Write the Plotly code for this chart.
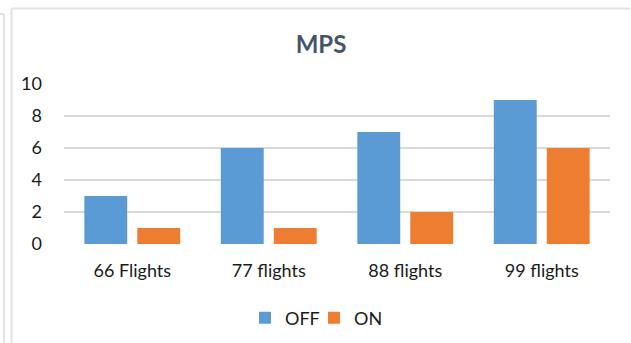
import plotly.graph_objects as go

categories = ["66 Flights", "77 flights", "88 flights", "99 flights"]
off_values = [3, 6, 7, 9]
on_values = [1, 1, 2, 6]
y_ticks = [0, 2, 4, 6, 8, 10]

W, H = 631, 343
ML, MR, MT, MB = 64, 21, 84, 99
PW, PH = W - ML - MR, H - MT - MB

def px_x(p):
    return (p - ML) / PW

def px_y(p):
    return 1 - (p - MT) / PH

FONT = "Lato, Open Sans, sans-serif"
TEXT = "#1a1a1a"

fig = go.Figure()
fig.add_bar(name="OFF", x=categories, y=off_values, legend="legend",
            marker=dict(color="#5b9bd5", line=dict(width=0)))
fig.add_bar(name="ON", x=categories, y=on_values, legend="legend2",
            marker=dict(color="#ed7d31", line=dict(width=0)))

frame = "#dfe3e8"
shapes = [
    # outer panel edge
    dict(type="line", xref="paper", yref="paper",
         x0=px_x(4), x1=px_x(4), y0=px_y(14), y1=px_y(H + 2),
         line=dict(color=frame, width=2)),
    dict(type="line", xref="paper", yref="paper",
         x0=px_x(-2), x1=px_x(4), y0=px_y(14), y1=px_y(14),
         line=dict(color=frame, width=2)),
    # chart area border
    dict(type="line", xref="paper", yref="paper",
         x0=px_x(11.5), x1=px_x(11.5), y0=px_y(8.5), y1=px_y(H + 2),
         line=dict(color=frame, width=2)),
    dict(type="line", xref="paper", yref="paper",
         x0=px_x(11.5), x1=px_x(630), y0=px_y(8.5), y1=px_y(8.5),
         line=dict(color=frame, width=2)),
]

legend_style = dict(orientation="h", xref="container", yref="container",
                    xanchor="left", yanchor="middle", y=1 - 318 / H,
                    font=dict(family=FONT, size=18, color=TEXT),
                    itemwidth=30, bgcolor="rgba(0,0,0,0)")

fig.update_layout(
    width=W, height=H,
    margin=dict(l=ML, r=MR, t=MT, b=MB, autoexpand=False),
    paper_bgcolor="white", plot_bgcolor="white",
    barmode="group", bargap=0.224, bargroupgap=0.19,
    font=dict(family=FONT, color=TEXT, size=18),
    title=dict(text="<b>MPS</b>", xref="container", x=321 / W,
               xanchor="center", yref="container",
               y=1 - 45 / H, yanchor="middle",
               font=dict(family=FONT, size=24, color="#44546a")),
    legend=dict(legend_style, x=245 / W),
    legend2=dict(legend_style, x=314 / W),
    shapes=shapes,
    showlegend=True,
)
fig.update_xaxes(showgrid=False, showline=False, ticks="",
                 ticklabelstandoff=14, automargin=False,
                 tickfont=dict(family=FONT, size=18, color=TEXT))
fig.update_yaxes(range=[0, 10], tickvals=y_ticks, showgrid=True,
                 gridcolor="#d9d9d9", gridwidth=1.5, zeroline=False,
                 showline=False, ticks="", ticklabelstandoff=21,
                 automargin=False,
                 tickfont=dict(family=FONT, size=18, color=TEXT))

fig.write_html("out.html")
